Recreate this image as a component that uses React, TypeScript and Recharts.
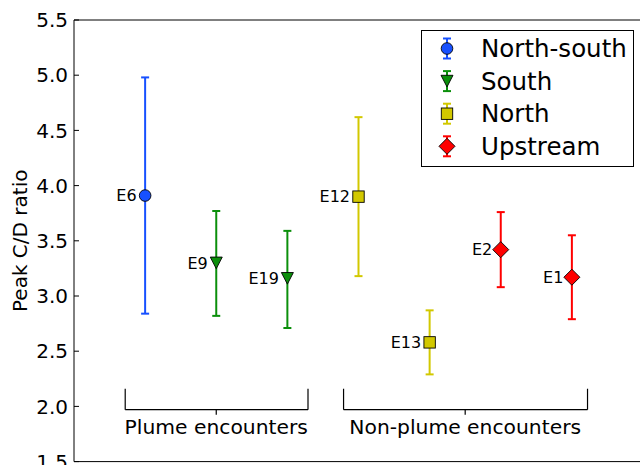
import React from 'react';
import {
  ScatterChart,
  Scatter,
  XAxis,
  YAxis,
  ErrorBar,
  ReferenceLine,
  ReferenceDot,
  Legend,
  Label,
} from 'recharts';

// Peak C/D ratio per encounter, with lower / upper uncertainty bounds
const events = ['E6', 'E9', 'E19', 'E12', 'E13', 'E2', 'E1'];
const positions = [1, 2, 3, 4, 5, 6, 7];
const peakRatio = [3.91, 3.3, 3.16, 3.9, 2.58, 3.42, 3.17];
const lowerBound = [2.84, 2.82, 2.71, 3.18, 2.29, 3.08, 2.79];
const upperBound = [4.98, 3.77, 3.59, 4.62, 2.87, 3.76, 3.55];
const eventGroup = ['North-south', 'South', 'South', 'North', 'North', 'Upstream', 'Upstream'];

// Series definitions
const groupNames = ['North-south', 'South', 'North', 'Upstream'];
const groupColors = ['#1750ff', '#0b8f0b', '#d2c800', '#ff0000'];
const groupMarkers = ['circle', 'triangleDown', 'square', 'diamond'];

const yTicks = [1.5, 2.0, 2.5, 3.0, 3.5, 4.0, 4.5, 5.0, 5.5];

// Encounter-type brackets under the points (data coordinates)
const encounterLabels = ['Plume encounters', 'Non-plume encounters'];
const bracketStart = [0.72, 3.79];
const bracketEnd = [3.29, 7.22];
const bracketCenter = [2.0, 5.5];
const bracketBase = 1.97;
const bracketArm = 2.16;
const bracketTick = 1.925;
const bracketTextLevel = 1.75;

const FONT = 'DejaVu Sans';

// Chart frame
const CHART_W = 680;
const CHART_H = 500;
const MARGIN = { top: 20, right: 37, bottom: 38.4, left: 0 };
const Y_AXIS_W = 74;
const PLOT_H = CHART_H - MARGIN.top - MARGIN.bottom;

type Pt = {
  x: number;
  y: number;
  name: string;
  group: string;
  err: [number, number];
};

const points: Pt[] = events.map((name, i) => ({
  x: positions[i],
  y: peakRatio[i],
  name,
  group: eventGroup[i],
  err: [peakRatio[i] - lowerBound[i], upperBound[i] - peakRatio[i]],
}));

function Marker({ kind, cx, cy, color }: { kind: string; cx: number; cy: number; color: string }) {
  const common = { fill: color, stroke: '#000', strokeWidth: 0.9 };
  switch (kind) {
    case 'circle':
      return <circle cx={cx} cy={cy} r={5.8} {...common} />;
    case 'triangleDown':
      return (
        <polygon
          points={`${cx - 6},${cy - 5.8} ${cx + 6},${cy - 5.8} ${cx},${cy + 5.8}`}
          {...common}
        />
      );
    case 'square':
      return <rect x={cx - 5.7} y={cy - 5.7} width={11.4} height={11.4} {...common} />;
    case 'diamond':
    default:
      return (
        <polygon
          points={`${cx},${cy - 8} ${cx + 8},${cy} ${cx},${cy + 8} ${cx - 8},${cy}`}
          {...common}
        />
      );
  }
}

const makeShape = (kind: string, color: string) => (props: any) => {
  const { cx, cy, payload } = props;
  return (
    <g>
      <Marker kind={kind} cx={cx} cy={cy} color={color} />
      <text
        x={cx - 8.5}
        y={cy + 5.8}
        textAnchor="end"
        style={{ fontSize: 16, fontFamily: FONT }}
        fill="#000"
      >
        {payload.name}
      </text>
    </g>
  );
};

const renderLegend = (props: any) => {
  const payload: any[] = props.payload || [];
  const ordered = groupNames
    .map((n) => payload.find((p: any) => p.value === n))
    .filter(Boolean);
  return (
    <svg width={213} height={137} style={{ display: 'block' }}>
      <rect x={0.5} y={0.5} width={212} height={136} fill="#fff" stroke="#000" strokeWidth={1} />
      {ordered.map((entry: any, i: number) => {
        const idx = groupNames.indexOf(entry.value);
        const color = groupColors[idx];
        const cy = 18.5 + i * 32.6;
        const cx = 26;
        return (
          <g key={entry.value}>
            <line x1={cx} x2={cx} y1={cy - 10} y2={cy + 10} stroke={color} strokeWidth={2} />
            <line x1={cx - 4} x2={cx + 4} y1={cy - 10} y2={cy - 10} stroke={color} strokeWidth={2} />
            <line x1={cx - 4} x2={cx + 4} y1={cy + 10} y2={cy + 10} stroke={color} strokeWidth={2} />
            <Marker kind={groupMarkers[idx]} cx={cx} cy={cy} color={color} />
            <text x={60} y={cy + 8.7} style={{ fontSize: 24.5, fontFamily: FONT }} fill="#000">
              {entry.value}
            </text>
          </g>
        );
      })}
    </svg>
  );
};

const bracketText = (text: string) => (props: any) => {
  const vb = props.viewBox || {};
  const x = (vb.x ?? 0) + (vb.width ?? 0) / 2;
  const y = (vb.y ?? 0) + (vb.height ?? 0) / 2;
  return (
    <text x={x} y={y} textAnchor="middle" style={{ fontSize: 20.3, fontFamily: FONT }} fill="#000">
      {text}
    </text>
  );
};

// Axis title, centred on the value axis
const yLabel = () => {
  const x = 26.7;
  const y = MARGIN.top + PLOT_H / 2;
  return (
    <text
      x={x}
      y={y}
      transform={`rotate(-90, ${x}, ${y})`}
      textAnchor="middle"
      style={{ fontSize: 20, fontFamily: FONT }}
      fill="#000"
    >
      Peak C/D ratio
    </text>
  );
};

export default function App() {
  return (
    <div
      style={{
        position: 'absolute',
        left: 0,
        top: 0,
        width: 640,
        height: 465,
        overflow: 'hidden',
        background: '#fff',
      }}
    >
      <ScatterChart width={CHART_W} height={CHART_H} margin={MARGIN}>
        <XAxis type="number" dataKey="x" domain={[0, 8]} hide />
        <YAxis
          type="number"
          dataKey="y"
          domain={[1.5, 5.5]}
          ticks={yTicks}
          interval={0}
          width={Y_AXIS_W}
          tickFormatter={(v: number) => v.toFixed(1)}
          tick={{ fontSize: 20, fill: '#000', fontFamily: FONT }}
          tickSize={-5}
          tickMargin={11}
          tickLine={{ stroke: '#000', strokeWidth: 1 }}
          axisLine={{ stroke: '#000', strokeWidth: 1 }}
        >
          <Label content={yLabel} />
        </YAxis>

        <ReferenceLine y={5.5} stroke="#000" strokeWidth={1} ifOverflow="visible" />
        <ReferenceLine y={1.5} stroke="#000" strokeWidth={1} ifOverflow="visible" />
        <ReferenceLine x={8} stroke="#000" strokeWidth={1} ifOverflow="visible" />

        {encounterLabels.map((text, i) => (
          <React.Fragment key={text}>
            <ReferenceLine
              segment={[
                { x: bracketStart[i], y: bracketArm },
                { x: bracketStart[i], y: bracketBase },
              ]}
              stroke="#000"
              strokeWidth={1.2}
              ifOverflow="visible"
            />
            <ReferenceLine
              segment={[
                { x: bracketStart[i], y: bracketBase },
                { x: bracketEnd[i], y: bracketBase },
              ]}
              stroke="#000"
              strokeWidth={1.2}
              ifOverflow="visible"
            />
            <ReferenceLine
              segment={[
                { x: bracketEnd[i], y: bracketBase },
                { x: bracketEnd[i], y: bracketArm },
              ]}
              stroke="#000"
              strokeWidth={1.2}
              ifOverflow="visible"
            />
            <ReferenceLine
              segment={[
                { x: bracketCenter[i], y: bracketBase },
                { x: bracketCenter[i], y: bracketTick },
              ]}
              stroke="#000"
              strokeWidth={1.2}
              ifOverflow="visible"
            />
            <ReferenceDot
              x={bracketCenter[i]}
              y={bracketTextLevel}
              r={1}
              fill="none"
              stroke="none"
              ifOverflow="visible"
              label={{ content: bracketText(text) } as any}
            />
          </React.Fragment>
        ))}

        {groupNames.map((g, gi) => (
          <Scatter
            key={g}
            name={g}
            data={points.filter((p) => p.group === g)}
            fill={groupColors[gi]}
            shape={makeShape(groupMarkers[gi], groupColors[gi])}
            isAnimationActive={false}
          >
            <ErrorBar
              dataKey="err"
              direction="y"
              width={4}
              strokeWidth={2}
              stroke={groupColors[gi]}
              isAnimationActive={false}
            />
          </Scatter>
        ))}

        <Legend
          layout="vertical"
          align="center"
          verticalAlign="middle"
          content={renderLegend}
          wrapperStyle={{ left: 421, top: 29.5, width: 213, height: 137 }}
        />
      </ScatterChart>
    </div>
  );
}
